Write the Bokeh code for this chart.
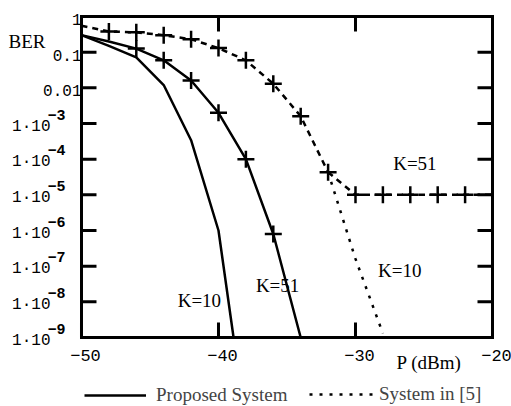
from bokeh.plotting import figure
from bokeh.models import (Range1d, FixedTicker, LinearAxis, LogAxis, Label, LabelSet,
                          ColumnDataSource, Legend, LegendItem, CustomJSTickFormatter)
from bokeh.embed import file_html
from bokeh.resources import INLINE
from bokeh.core.properties import value

# ---------------- data ----------------
# Proposed system, K=10 (curve leaves the plot at the 1e-9 floor)
prop_k10_x = [-50, -48, -46, -44, -42, -40, -38.9]
prop_k10_y = [0.30, 0.15, 0.071, 0.012, 3.4e-4, 1.0e-6, 1.0e-9]

# Proposed system, K=51
prop_k51_x = [-50, -48, -46, -44, -42, -40, -38, -36, -34]
prop_k51_y = [0.30, 0.20, 0.126, 0.059, 0.016, 2.0e-3, 1.0e-4, 8.0e-7, 1.0e-9]

# System in [5], common part
ref5_x = [-50, -48, -46, -44, -42, -40, -38, -36, -34, -32]
ref5_y = [0.55, 0.38, 0.36, 0.30, 0.23, 0.13, 0.059, 0.013, 1.6e-3, 4.3e-5]

# System in [5], K=51 error floor
ref5_k51_x = [-32, -30, -28, -26, -24, -22, -20]
ref5_k51_y = [4.3e-5, 1.0e-5, 1.0e-5, 1.0e-5, 1.0e-5, 1.0e-5, 1.0e-5]

# System in [5], K=10 tail
ref5_k10_x = [-32, -30, -28]
ref5_k10_y = [4.3e-5, 1.6e-7, 1.3e-9]

# axis ticks and labels
x_ticks = [-50.0, -40.0, -30.0, -20.0]
x_tick_labels = ["\u221250", "\u221240", "\u221230", "\u221220"]
y_ticks = [1.0, 0.1, 0.01, 1e-3, 1e-4, 1e-5, 1e-6, 1e-7, 1e-8, 1e-9]
y_dec_ticks = [1.0, 0.1, 0.01]
y_dec_labels = ["1", "0.1", "0.01"]
y_pow_ticks = [1e-3, 1e-4, 1e-5, 1e-6, 1e-7, 1e-8, 1e-9]
y_pow_exps = ["\u22123", "\u22124", "\u22125", "\u22126", "\u22127", "\u22128", "\u22129"]

X_MIN, X_MAX = -50.0, -20.0
Y_MIN, Y_MAX = 1e-9, 1.0

# plot-box geometry: 13.7 px per dB, 35.667 px per decade, ticks 15 px long
TICK_PX = 15
TICK_DX = TICK_PX / 13.7              # tick length in dB
TICK_FY = 10 ** (TICK_PX / 35.667)    # tick length as a factor on the log axis

SERIF = "Liberation Serif"
MONO = "Liberation Mono"

# The frame spans the whole canvas; the boxed plot area is drawn by four axes
# fixed at the data limits, so that the texts around the box are not clipped.
p = figure(width=511, height=406,
           x_range=Range1d(-55.912, -18.613), y_range=Range1d(1.163e-11, 2.809),
           y_axis_type="log", x_axis_location=None, y_axis_location=None,
           output_backend="svg", toolbar_location=None,
           min_border_left=0, min_border_right=0, min_border_top=0, min_border_bottom=0)
p.grid.visible = False
p.outline_line_color = None
p.background_fill_color = "white"
p.border_fill_color = "white"

blank = CustomJSTickFormatter(code="return ''")


def make_axis(kind, ticks, loc, bounds):
    return kind(ticker=FixedTicker(ticks=ticks), fixed_location=loc, bounds=bounds,
                major_tick_in=0, major_tick_out=0, minor_tick_in=0, minor_tick_out=0,
                axis_line_width=3, axis_line_color="black", axis_line_cap="square",
                formatter=blank, major_label_text_font_size="1px",
                major_label_text_color=None, major_label_standoff=0)


p.add_layout(make_axis(LinearAxis, x_ticks, Y_MIN, (X_MIN, X_MAX)), "below")
p.add_layout(make_axis(LinearAxis, x_ticks, Y_MAX, (X_MIN, X_MAX)), "above")
p.add_layout(make_axis(LogAxis, y_ticks, X_MIN, (Y_MIN, Y_MAX)), "left")
p.add_layout(make_axis(LogAxis, y_ticks, X_MAX, (Y_MIN, Y_MAX)), "right")

# ---------------- curves ----------------
r_prop10 = p.line(prop_k10_x, prop_k10_y, line_color="black", line_width=2.5)
p.line(prop_k51_x, prop_k51_y, line_color="black", line_width=2.5)
p.scatter(prop_k51_x[2:8], prop_k51_y[2:8], marker="cross", size=17,
          line_color="black", line_width=2.5)

p.line(ref5_x, ref5_y, line_color="black", line_width=2.5, line_dash="6 5")
p.line(ref5_k51_x, ref5_k51_y, line_color="black", line_width=2.5, line_dash="6 5")
r_ref10 = p.line(ref5_k10_x, ref5_k10_y, line_color="black", line_width=2.5, line_dash="3 7")
p.scatter(ref5_x[1:], ref5_y[1:], marker="cross", size=17, line_color="black", line_width=2.5)
p.scatter(ref5_k51_x[1:-1], ref5_k51_y[1:-1], marker="cross", size=17,
          line_color="black", line_width=2.5)

# ---------------- inward tick marks on all four sides of the box ----------------
for xt in x_ticks:
    p.line([xt, xt], [Y_MIN, Y_MIN * TICK_FY], line_color="black", line_width=3)
    p.line([xt, xt], [Y_MAX, Y_MAX / TICK_FY], line_color="black", line_width=3)
for yt in y_ticks:
    p.line([X_MIN, X_MIN + TICK_DX], [yt, yt], line_color="black", line_width=3)
    p.line([X_MAX, X_MAX - TICK_DX], [yt, yt], line_color="black", line_width=3)

# ---------------- tick labels ----------------
p.add_layout(LabelSet(x=X_MIN, y="y", text="text",
                      source=ColumnDataSource(dict(y=y_dec_ticks, text=y_dec_labels)),
                      x_offset=0, y_offset=-3, text_align="right", text_baseline="middle",
                      text_font=value(MONO), text_font_size="16px", text_color="black"))
p.add_layout(LabelSet(x=X_MIN, y="y", text="text",
                      source=ColumnDataSource(dict(y=y_pow_ticks, text=["1\u00b710"] * len(y_pow_ticks))),
                      x_offset=-31, y_offset=-3, text_align="right", text_baseline="middle",
                      text_font=value(MONO), text_font_size="16px", text_color="black"))
p.add_layout(LabelSet(x=X_MIN, y="y", text="text",
                      source=ColumnDataSource(dict(y=y_pow_ticks, text=y_pow_exps)),
                      x_offset=-34, y_offset=9, text_align="left", text_baseline="middle",
                      text_font=value(MONO), text_font_size="15px", text_color="black",
                      text_font_style="bold"))
p.add_layout(LabelSet(x="x", y=Y_MIN, text="text",
                      source=ColumnDataSource(dict(x=x_ticks, text=x_tick_labels)),
                      x_offset=4, y_offset=-18, text_align="center", text_baseline="middle",
                      text_font=value(MONO), text_font_size="17px", text_color="black"))

# ---------------- axis titles and curve labels ----------------
def lab(x, y, text, **kw):
    p.add_layout(Label(x=x, y=y, text=text, text_font=SERIF, text_font_size="19px",
                       text_color="black", text_baseline="middle", **kw))


lab(X_MIN, 0.2, "BER", x_offset=-73)
lab(-27.0, Y_MIN, "P (dBm)", y_offset=-25)
lab(-27.25, 7.6e-5, "K=51")
lab(-28.35, 7.7e-8, "K=10")
lab(-37.27, 2.9e-8, "K=51")
lab(-42.98, 1.1e-8, "K=10")

# ---------------- legend ----------------
leg1 = Legend(items=[LegendItem(label="Proposed System", renderers=[r_prop10])],
              location=(84, 0), orientation="horizontal", glyph_width=62, glyph_height=6,
              label_standoff=10, padding=0, margin=0, border_line_color=None,
              background_fill_alpha=0, label_text_font=SERIF, label_text_font_size="19px")
leg2 = Legend(items=[LegendItem(label="System in [5]", renderers=[r_ref10])],
              location=(309, 1), orientation="horizontal", glyph_width=70, glyph_height=6,
              label_standoff=0, padding=0, margin=0, border_line_color=None,
              background_fill_alpha=0, label_text_font=SERIF, label_text_font_size="19px")
p.add_layout(leg1, "center")
p.add_layout(leg2, "center")

open("out.html", "w").write(file_html(p, INLINE))
